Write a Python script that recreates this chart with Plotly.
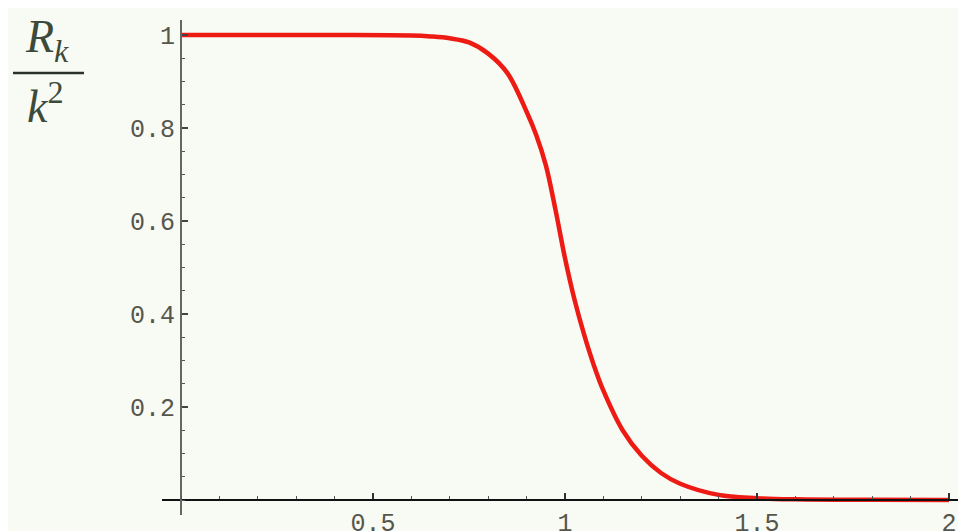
import plotly.graph_objects as go

# Values
k_over = [0.0, 0.2, 0.4, 0.6, 0.65, 0.7, 0.75, 0.8, 0.85, 0.9, 0.925, 0.95, 0.975,
          1.0, 1.025, 1.05, 1.075, 1.1, 1.15, 1.2, 1.25, 1.3, 1.4, 1.5, 1.6, 1.8, 2.0]
ratio = [1.0, 1.0, 1.0, 0.999, 0.997, 0.993, 0.984, 0.96, 0.918, 0.835, 0.785,
         0.72, 0.625, 0.52, 0.43, 0.355, 0.29, 0.235, 0.15, 0.095, 0.058, 0.035,
         0.011, 0.004, 0.0015, 0.0003, 0.0]

x_ticks = [0.5, 1, 1.5, 2]
x_labels = ["0.5", "1", "1.5", "2"]
y_ticks = [0.2, 0.4, 0.6, 0.8, 1.0]
y_labels = ["0.2", "0.4", "0.6", "0.8", "1"]

# the page body has an 8px margin, so the figure is drawn 8px in and down
OFF = 8
W, H = 966 - OFF, 531 - OFF
ml, mr, mt, mb = 162 - OFF, 0, 20 - OFF, 16
pw, ph = W - ml - mr, H - mt - mb
xr = [-0.0495, -0.0495 + pw / 384.0]
yr = [-15 / 465.0, -15 / 465.0 + ph / 465.0]

bg = "#f7fbf4"
tick_font = dict(family="Liberation Mono, Courier New, monospace", size=25, color="#56564c")

fig = go.Figure()
fig.add_trace(go.Scatter(x=k_over, y=ratio, mode="lines",
                         line=dict(color="#ee1a14", width=4.5, shape="spline", smoothing=1.0),
                         hoverinfo="skip", showlegend=False))

fig.update_layout(
    width=W, height=H,
    margin=dict(l=ml, r=mr, t=mt, b=mb, autoexpand=False),
    paper_bgcolor=bg, plot_bgcolor=bg,
    xaxis=dict(range=xr, showgrid=False, zeroline=False, automargin=False,
               anchor="free", position=(0 - yr[0]) / (yr[1] - yr[0]),
               showline=True, linecolor="#111111", linewidth=2,
               tickvals=x_ticks, ticktext=x_labels, ticks="inside",
               ticklen=6, tickwidth=1.5, tickcolor="#333333", ticklabelstandoff=0,
               minor=dict(dtick=0.1, tick0=0, ticks="inside", ticklen=3,
                          tickwidth=1.2, tickcolor="#555555"),
               tickfont=tick_font),
    yaxis=dict(range=yr, showgrid=False, zeroline=False, automargin=False,
               anchor="free", position=(0 - xr[0]) / (xr[1] - xr[0]),
               showline=True, linecolor="#666666", linewidth=2,
               tickvals=y_ticks, ticktext=y_labels, ticks="inside",
               ticklen=6, tickwidth=1.5, tickcolor="#444444",
               minor=dict(dtick=0.05, tick0=0, ticks="inside", ticklen=3,
                          tickwidth=1.2, tickcolor="#555555"),
               tickfont=tick_font),
)

label_color = "#3d4a3a"
serif = "Liberation Serif, DejaVu Serif, serif"
fig.add_annotation(xref="paper", yref="paper", x=(47 - OFF - ml) / pw,
                   y=1 + (mt - (40 - OFF)) / ph, xanchor="center", yanchor="middle",
                   text="<i>R<sub>k</sub></i>", showarrow=False,
                   font=dict(family=serif, size=46, color=label_color))
fig.add_annotation(xref="paper", yref="paper", x=(46 - OFF - ml) / pw,
                   y=1 + (mt - (103 - OFF)) / ph, xanchor="center", yanchor="middle",
                   text="<i>k</i><sup>2</sup>", showarrow=False,
                   font=dict(family=serif, size=46, color=label_color))
fig.add_shape(type="line", xref="paper", yref="paper",
              x0=(13 - OFF - ml) / pw, x1=(84 - OFF - ml) / pw,
              y0=1 + (mt - (73 - OFF)) / ph, y1=1 + (mt - (73 - OFF)) / ph,
              line=dict(color="#2a302a", width=2.5))

fig.write_html("out.html")
